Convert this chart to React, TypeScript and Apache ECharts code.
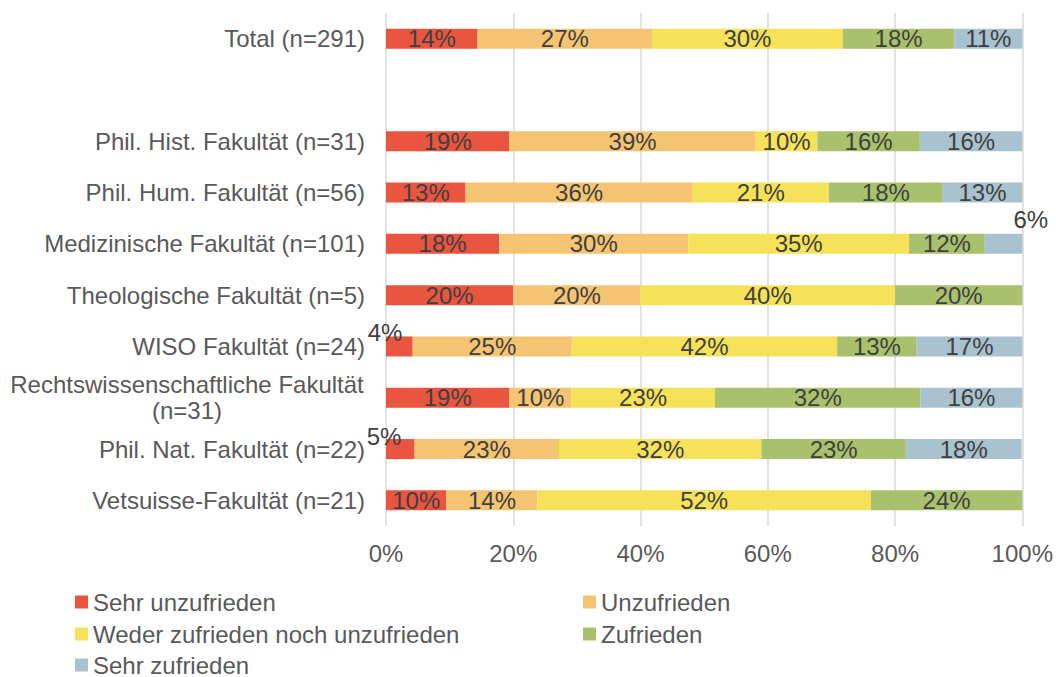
import React, { useEffect, useRef } from "react";
import * as echarts from "echarts";

const categories = [
  "Total (n=291)",
  "",
  "Phil. Hist. Fakultät (n=31)",
  "Phil. Hum. Fakultät (n=56)",
  "Medizinische Fakultät (n=101)",
  "Theologische Fakultät (n=5)",
  "WISO Fakultät (n=24)",
  "Rechtswissenschaftliche Fakultät\n(n=31)",
  "Phil. Nat. Fakultät (n=22)",
  "Vetsuisse-Fakultät (n=21)",
];

const seriesNames = [
  "Sehr unzufrieden",
  "Unzufrieden",
  "Weder zufrieden noch unzufrieden",
  "Zufrieden",
  "Sehr zufrieden",
];

const sehrUnzufrieden = [14.4, null, 19.4, 12.5, 17.8, 20, 4.2, 19.4, 4.5, 9.5];
const unzufrieden = [27.4, null, 38.7, 35.7, 29.7, 20, 25.0, 9.7, 22.7, 14.3];
const weder = [30.0, null, 9.7, 21.4, 34.7, 40, 41.7, 22.6, 31.8, 52.4];
const zufrieden = [17.5, null, 16.1, 17.9, 11.9, 20, 12.5, 32.3, 22.7, 23.8];
const sehrZufrieden = [10.7, null, 16.1, 12.5, 5.9, 0, 16.7, 16.1, 18.2, 0];

const xTicks = [0, 20, 40, 60, 80, 100];

const colors = ["#E9553F", "#F5C472", "#F5E258", "#A9C06C", "#A8C2CF"];

const FONT = "'Liberation Sans', Arial, sans-serif";
const FS = 24;

// legend placement: [series index, left, top]
const legendSlots: [number, number, number][] = [
  [0, 75, 590],
  [2, 75, 622],
  [4, 75, 653],
  [1, 583, 590],
  [3, 583, 622],
];

export default function App() {
  const ref = useRef<HTMLDivElement>(null);

  useEffect(() => {
    if (!ref.current) return;
    const chart = echarts.init(ref.current, undefined, { renderer: "svg" });

    // special label placements (outside small segments)
    const special: Record<string, [number, number]> = {
      "0-6": [-1, -4],
      "0-8": [-2, -3],
      "4-4": [46, -14],
    };

    const allData = [sehrUnzufrieden, unzufrieden, weder, zufrieden, sehrZufrieden];

    const series = allData.map((arr, si) => ({
      name: seriesNames[si],
      type: "bar",
      stack: "total",
      barWidth: 20,
      itemStyle: { color: colors[si] },
      label: {
        show: true,
        position: "inside",
        color: "#404040",
        fontSize: FS,
        fontFamily: FONT,
        formatter: (p: any) =>
          p.value == null || p.value === 0 ? "" : Math.round(p.value) + "%",
      },
      data: arr.map((v, ci) => {
        const key = `${si}-${ci}`;
        if (special[key]) {
          return {
            value: v,
            label: {
              position: special[key],
              align: "center",
              verticalAlign: "middle",
            },
          };
        }
        return v;
      }),
    }));

    chart.setOption({
      animation: false,
      textStyle: { fontFamily: FONT },
      grid: { left: 386, right: 25, top: 13, bottom: 151, containLabel: false },
      xAxis: {
        type: "value",
        min: 0,
        max: 100,
        interval: 20,
        axisLine: { show: false },
        axisTick: { show: false },
        splitLine: { show: true, lineStyle: { color: "#D9D9D9", width: 1.5 } },
        axisLabel: {
          color: "#595959",
          fontSize: FS,
          fontFamily: FONT,
          margin: 15,
          formatter: (v: number) => (xTicks.includes(v) ? v + "%" : ""),
        },
      },
      yAxis: {
        type: "category",
        inverse: true,
        data: categories,
        axisLine: { show: false },
        axisTick: { show: false },
        axisLabel: {
          color: "#595959",
          fontSize: FS,
          fontFamily: FONT,
          margin: 21,
          lineHeight: 26,
          formatter: (v: string) => {
            if (v.includes("\n")) {
              return v
                .split("\n")
                .map((s) => `{c|${s}}`)
                .join("\n");
            }
            return v;
          },
          rich: {
            c: {
              width: 356,
              align: "center",
              fontSize: FS,
              lineHeight: 26,
              color: "#595959",
              fontFamily: FONT,
            },
          },
        },
      },
      legend: legendSlots.map(([si, left, top]) => ({
        orient: "horizontal",
        left,
        top,
        padding: 0,
        icon: "rect",
        itemWidth: 13,
        itemHeight: 13,
        itemGap: 5,
        textStyle: { color: "#595959", fontSize: FS, fontFamily: FONT, padding: [0, 0, 0, 0] },
        data: [seriesNames[si]],
      })),
      series,
    });

    return () => chart.dispose();
  }, []);

  return (
    <div
      ref={ref}
      style={{ position: "fixed", left: 0, top: 0, width: 1056, height: 677, background: "#fff" }}
    />
  );
}
